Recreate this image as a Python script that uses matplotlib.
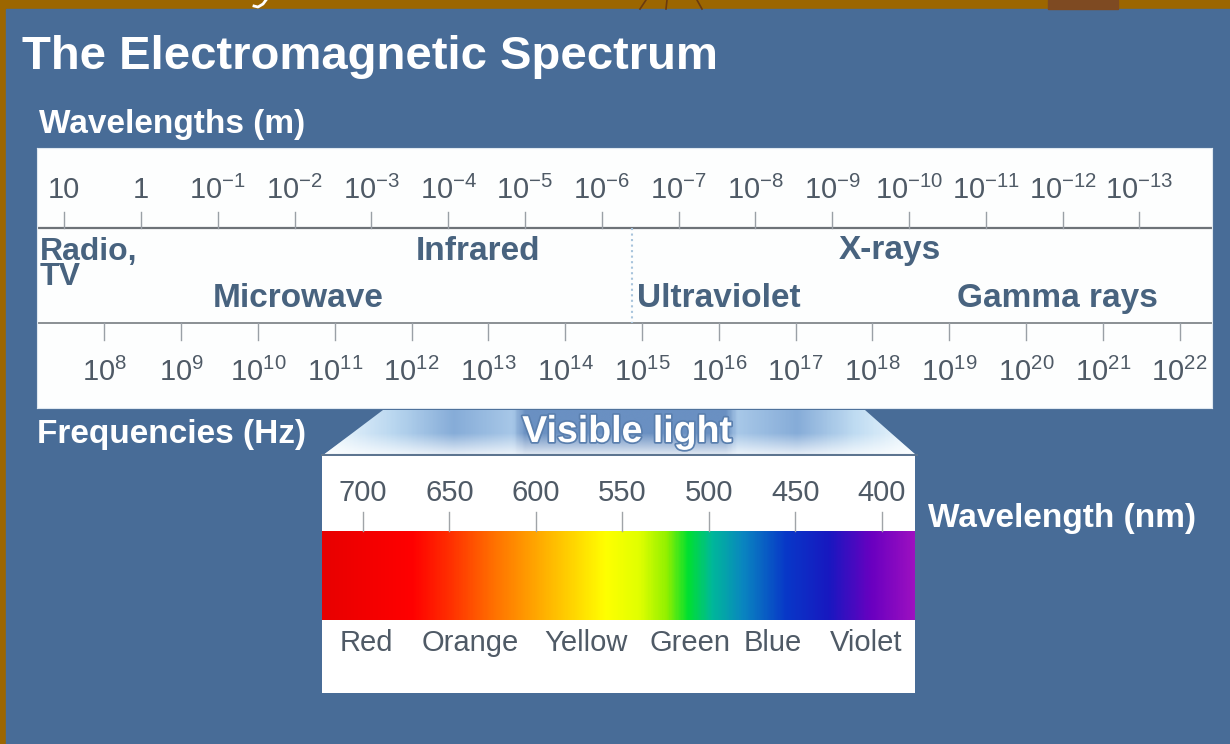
import numpy as np
import matplotlib.pyplot as plt
import matplotlib.patheffects as pe
from matplotlib.colors import LinearSegmentedColormap
from matplotlib.patches import Rectangle, Polygon

plt.rcParams['font.family'] = ['Liberation Sans', 'DejaVu Sans']
plt.rcParams['mathtext.fontset'] = 'custom'
plt.rcParams['mathtext.rm'] = 'Liberation Sans'
plt.rcParams['mathtext.it'] = 'Liberation Sans:italic'
plt.rcParams['mathtext.bf'] = 'Liberation Sans:bold'

# ---- data ----
wl_exp = [1, 0, -1, -2, -3, -4, -5, -6, -7, -8, -9, -10, -11, -12, -13]
freq_exp = [8, 9, 10, 11, 12, 13, 14, 15, 16, 17, 18, 19, 20, 21, 22]
c_light = 3e8

band_names = ["Radio,\nTV", "Infrared", "Microwave", "X-rays", "Ultraviolet", "Gamma rays"]
band_wl = [1.32, -3.58, -0.94, -9.08, -6.46, -10.63]   # log10(m) where label starts
band_row = [0, 0, 1, 0, 1, 1]
visible_edge = 4e-7  # m

nm_ticks = [700, 650, 600, 550, 500, 450, 400]
colour_names = ["Red", "Orange", "Yellow", "Green", "Blue", "Violet"]
colour_nm = [698, 638, 571, 511, 463, 409]

spec_nm = [724, 672, 650, 625, 603, 585, 560, 540, 524, 512, 498, 480, 455, 430, 405, 381]
spec_col = ['#e80000', '#ff0000', '#ff3000', '#ff7000', '#ffa000', '#ffc800', '#ffff00',
            '#e0ff00', '#90f000', '#00e030', '#00b89a', '#0a86c0', '#0838c8', '#1818c0',
            '#6a00c0', '#9c10c0']

# ---- figure ----
BLUE = '#486c97'
BROWN = '#9c6600'
fig = plt.figure(figsize=(12.3, 7.44), dpi=100, facecolor=BROWN)
ax = fig.add_axes([0, 0, 1, 1])
ax.set_xlim(0, 1230)
ax.set_ylim(744, 0)
ax.axis('off')

ax.add_patch(Rectangle((6, 9), 1224, 735, color=BLUE, zorder=0))
# bits of the slide peeking above the panel
ax.add_patch(Rectangle((1048, 0), 70, 9, color='#7e4a22', zorder=1))
for x0, x1 in [(646, 640), (667, 666), (697, 702)]:
    ax.plot([x0, x1], [0, 9], color='#6a3a10', lw=1.2, zorder=1)
ax.plot([266, 263, 258, 254], [0, 4, 7, 6], color='white', lw=2, zorder=1)

W = 1230
H = 744

def fig_rect(x0, y0, x1, y1):
    return [x0 / W, 1 - y1 / H, (x1 - x0) / W, (y1 - y0) / H]

ax.text(22, 57, "The Electromagnetic Spectrum", color='white', fontsize=34,
        fontweight='bold', va='center', ha='left')
ax.text(39, 125, "Wavelengths (m)", color='white', fontsize=24, fontweight='bold',
        va='center', ha='left')
ax.text(37, 435, "Frequencies (Hz)", color='white', fontsize=24, fontweight='bold',
        va='center', ha='left')
ax.text(928, 518, "Wavelength (nm)", color='white', fontsize=24, fontweight='bold',
        va='center', ha='left')

# ---- main spectrum band (x = log10 wavelength in m) ----
band = fig.add_axes(fig_rect(37, 148, 1212, 408))
band.set_facecolor('#fdfefe')
band.set_xlim(1.354, -13.945)
band.set_ylim(408, 148)
band.set_xticks([])
band.set_yticks([])
for s in band.spines.values():
    s.set_color('#dfe8f0')

num_col = '#4f5a66'
name_col = '#48637f'

band.axhline(228, color='#6e7378', lw=1.6)
band.axhline(323, color='#8a8f94', lw=1.4)

for e in wl_exp:
    band.plot([e, e], [212, 228], color='#9aa0a6', lw=1)
    if e == 1:
        lab = "10"
    elif e == 0:
        lab = "1"
    else:
        lab = r"$\mathregular{10^{%d}}$" % e
    band.text(e, 190, lab, color=num_col, fontsize=21, ha='center', va='center')

for e in freq_exp:
    x = np.log10(c_light / 10.0 ** e)
    band.plot([x, x], [323, 340], color='#9aa0a6', lw=1)
    band.text(x, 372, r"$\mathregular{10^{%d}}$" % e, color=num_col, fontsize=21,
              ha='center', va='center')

band.plot([np.log10(visible_edge)] * 2, [228, 323], color='#a8c4dc', lw=1.5, ls=':')

row_y = [251, 299]
for name, x, r in zip(band_names, band_wl, band_row):
    if name.startswith("Radio"):
        band.text(x, 237, name, color=name_col, fontsize=23, fontweight='bold',
                  ha='left', va='top', linespacing=0.8)
    else:
        band.text(x, row_y[r], name, color=name_col, fontsize=24, fontweight='bold',
                  ha='left', va='center')

# ---- visible light header (trapezoid) ----
trap = Polygon([(383, 410), (865, 410), (917, 456), (322, 456)], closed=True,
               facecolor='none', edgecolor='none')
ax.add_patch(trap)
hcmap = LinearSegmentedColormap.from_list('hdr', [
    (0.0, '#f2fbff'), (0.12, '#b8d6ef'), (0.22, '#86acd8'), (0.32, '#a8c8e8'),
    (0.34, '#6a90c2'), (0.68, '#6a90c2'), (0.70, '#a8c8e8'), (0.80, '#86acd8'),
    (0.90, '#c0dcf2'), (1.0, '#f2fbff')])
img = ax.imshow(np.linspace(0, 1, 400)[None, :], cmap=hcmap, aspect='auto',
                extent=(322, 917, 456, 410), zorder=2, interpolation='bicubic')
img.set_clip_path(trap)
fade = LinearSegmentedColormap.from_list('fade', [(1, 1, 1, 0.0), (1, 1, 1, 0.0), (1, 1, 1, 0.85)])
img2 = ax.imshow(np.linspace(0, 1, 100)[:, None], cmap=fade, aspect='auto',
                 extent=(322, 917, 456, 410), origin='upper', zorder=3)
img2.set_clip_path(trap)
ax.plot([322, 917], [455, 455], color='#5d7590', lw=1.5, zorder=4)
ax.text(627, 432, "Visible light", color='white', fontsize=27, fontweight='bold',
        ha='center', va='center', zorder=5,
        path_effects=[pe.withStroke(linewidth=2.5, foreground='#5a7fae')])

# ---- visible spectrum box (x = wavelength in nm) ----
vis = fig.add_axes(fig_rect(322, 456, 915, 693))
vis.set_facecolor('white')
vis.set_xticks([])
vis.set_yticks([])
for s in vis.spines.values():
    s.set_visible(False)

lo, hi = min(spec_nm), max(spec_nm)
scmap = LinearSegmentedColormap.from_list(
    'spec', [((n - lo) / (hi - lo), col) for n, col in sorted(zip(spec_nm, spec_col))])
vis.imshow(np.linspace(0, 1, 600)[None, :], cmap=scmap, aspect='auto',
           extent=(lo, hi, 620, 531), interpolation='bicubic')
vis.set_xlim(723.7, 380.9)
vis.set_ylim(693, 456)

for n in nm_ticks:
    vis.plot([n, n], [512, 531], color='#a0a4a8', lw=1)
    vis.text(n, 493, str(n), color=num_col, fontsize=21, ha='center', va='center')

for name, n in zip(colour_names, colour_nm):
    vis.text(n, 643, name, color=num_col, fontsize=21, ha='center', va='center')

fig.savefig('out.png', dpi=100, facecolor=BROWN)
